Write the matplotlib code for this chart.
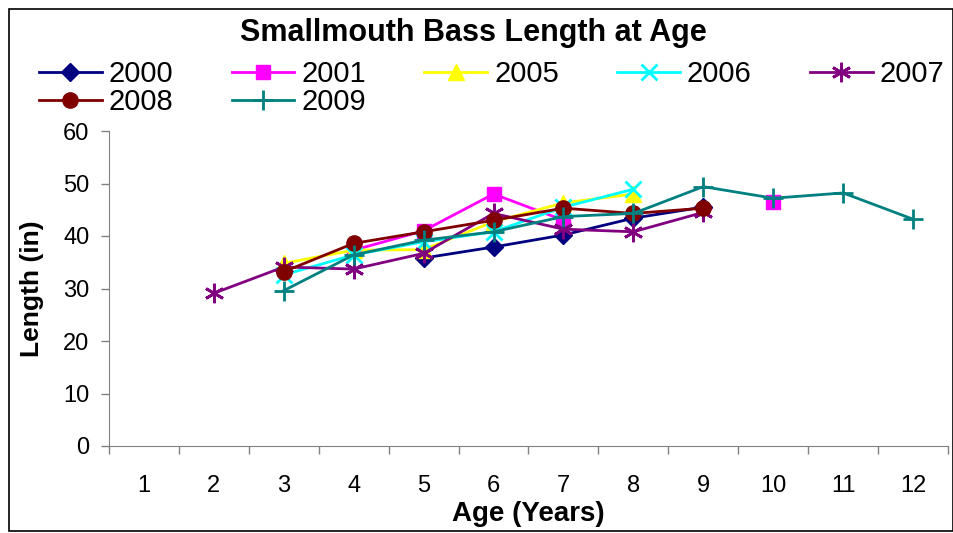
import numpy as np
import matplotlib.pyplot as plt
from matplotlib.patches import Rectangle

plt.rcParams['font.family'] = ['Liberation Sans', 'DejaVu Sans']

ages = list(range(1, 13))
nan = np.nan
# length (in) by age 1..12
y2000 = [nan, nan, nan, nan, 35.8, 37.9, 40.2, 43.4, 45.5, nan, nan, nan]
y2001 = [nan, nan, nan, 37.3, 41.0, 48.0, 43.0, nan, nan, 46.5, nan, nan]
y2005 = [nan, nan, 34.8, 37.3, 37.4, 42.7, 46.3, 48.0, nan, nan, nan, nan]
y2006 = [nan, nan, 32.6, 36.4, 38.9, 40.8, 45.5, 48.9, nan, nan, nan, nan]
y2007 = [nan, 29.1, 34.1, 33.7, 36.7, 44.3, 41.3, 40.8, 44.5, nan, nan, nan]
y2008 = [nan, nan, 33.2, 38.6, 40.8, 43.0, 45.3, 44.3, 45.3, nan, nan, nan]
y2009 = [nan, nan, 29.6, 36.4, 39.2, 40.8, 43.7, 44.3, 49.4, 47.2, 48.2, 43.2]

series = [
    ("2000", y2000, "#000080", "D", 9),
    ("2001", y2001, "#FF00FF", "s", 10),
    ("2005", y2005, "#FFFF00", "^", 11),
    ("2006", y2006, "#00FFFF", "x", 12),
    ("2007", y2007, "#800080", (6, 2, 0), 14),
    ("2008", y2008, "#800000", "o", 11),
    ("2009", y2009, "#008080", "+", 14),
]

fig = plt.figure(figsize=(9.54, 5.33), dpi=100)
ax = fig.add_axes([109/954, 1-446/533, (948-109)/954, (446-131)/533])

lines = {}
for name, ys, c, m, ms in series:
    ln, = ax.plot(ages, ys, color=c, marker=m, markersize=ms, lw=2,
                  markeredgewidth=2 if m in ("x", "+") or isinstance(m, tuple) else 1,
                  markeredgecolor=c, markerfacecolor=c, label=name, clip_on=False)
    lines[name] = ln

ax.set_xlim(0.5, 12.5)
ax.set_ylim(0, 60)
ax.set_yticks(range(0, 61, 10))
ax.set_xticks(ages)
ax.set_xticks(np.arange(0.5, 13, 1), minor=True)
ax.tick_params(axis='x', which='major', length=0, labelsize=17, pad=21)
ax.tick_params(axis='x', which='minor', length=6, width=1, direction='out')
ax.tick_params(axis='y', length=6, width=1, direction='out', labelsize=17, pad=8)
for s in ['top', 'right']:
    ax.spines[s].set_visible(False)
ax.spines['left'].set_color('#808080')
ax.spines['bottom'].set_color('#808080')
ax.tick_params(colors='#808080', labelcolor='black', which='both')

ax.set_xlabel("Age (Years)", fontsize=20, fontweight='bold', labelpad=3)
ax.set_ylabel("Length (in)", fontsize=19, fontweight='bold', labelpad=14)

fig.text(473/954, 1-33/533, "Smallmouth Bass Length at Age", ha='center', va='center',
         fontsize=22, fontweight='bold')

# row-major order for a 5-column legend
order = ["2000", "2008", "2001", "2009", "2005", "2006", "2007"]
fig.legend([lines[k] for k in order], order, loc='upper left',
           bbox_to_anchor=(39/954, 1-60/533), ncol=5,
           frameon=False, fontsize=21, handlelength=2.15, handletextpad=0.24,
           columnspacing=2.0, labelspacing=0.0, borderpad=0, borderaxespad=0)

fig.patches.append(Rectangle((9/954, 2/533), 944/954, 522/533, transform=fig.transFigure,
                             fill=False, edgecolor='black', lw=1.2))

fig.savefig("out.png", dpi=100)
